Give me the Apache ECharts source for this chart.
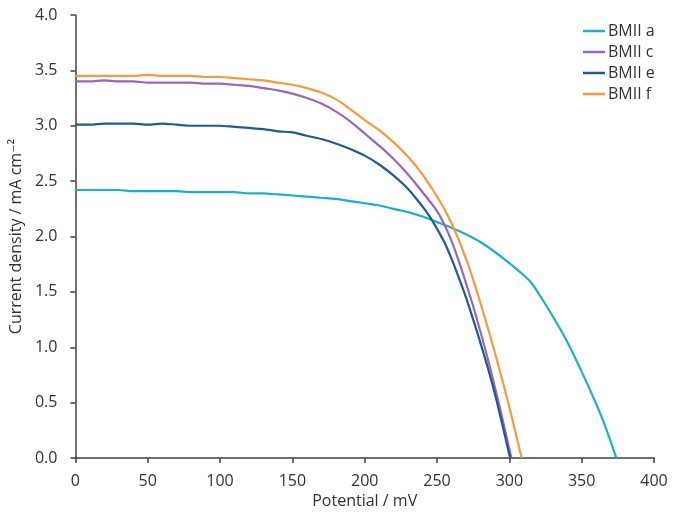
<!DOCTYPE html>
<html>
<head>
<meta charset="utf-8">
<script src="https://cdn.jsdelivr.net/npm/echarts@6/dist/echarts.min.js"></script>
<style>
html,body{margin:0;padding:0;background:#fff;}
#chart{width:675px;height:517px;}
</style>
</head>
<body>
<div id="chart"></div>
<script>
var seriesNames = ['BMII a', 'BMII c', 'BMII e', 'BMII f'];
var xTicks = [0, 50, 100, 150, 200, 250, 300, 350, 400];
var yTicks = [0, 0.5, 1.0, 1.5, 2.0, 2.5, 3.0, 3.5, 4.0];

var bmiiA = [[0,2.42],[10,2.42],[20,2.42],[30,2.42],[40,2.41],[50,2.41],[60,2.41],[70,2.41],[80,2.40],[90,2.40],[100,2.40],[110,2.40],[120,2.39],[130,2.39],[140,2.38],[150,2.37],[160,2.36],[170,2.35],[180,2.34],[190,2.32],[200,2.30],[210,2.28],[220,2.25],[230,2.22],[240,2.18],[250,2.13],[260,2.08],[270,2.02],[280,1.95],[290,1.86],[300,1.76],[310,1.65],[315,1.585],[320,1.49],[330,1.28],[340,1.05],[350,0.78],[360,0.49],[365,0.33],[370,0.15],[374,0]];
var bmiiC = [[0,3.40],[10,3.40],[20,3.41],[30,3.40],[40,3.40],[50,3.39],[60,3.39],[70,3.39],[80,3.39],[90,3.38],[100,3.38],[110,3.37],[120,3.36],[130,3.34],[140,3.32],[150,3.29],[160,3.25],[170,3.20],[180,3.13],[190,3.04],[200,2.93],[210,2.82],[220,2.70],[230,2.56],[240,2.40],[250,2.23],[255,2.11],[260,1.96],[265,1.78],[270,1.58],[275,1.37],[280,1.14],[285,0.90],[290,0.64],[295,0.365],[300,0.08],[301.4,0]];
var bmiiE = [[0,3.01],[10,3.01],[20,3.02],[30,3.02],[40,3.02],[50,3.01],[60,3.02],[70,3.01],[80,3.00],[90,3.00],[100,3.00],[110,2.99],[120,2.98],[130,2.97],[140,2.95],[150,2.94],[160,2.91],[170,2.88],[180,2.84],[190,2.79],[200,2.73],[210,2.65],[220,2.55],[230,2.43],[240,2.27],[245,2.18],[250,2.07],[255,1.95],[260,1.80],[265,1.63],[270,1.45],[275,1.25],[280,1.04],[285,0.82],[290,0.58],[295,0.31],[300,0.03],[300.6,0]];
var bmiiF = [[0,3.45],[10,3.45],[20,3.45],[30,3.45],[40,3.45],[50,3.46],[60,3.45],[70,3.45],[80,3.45],[90,3.44],[100,3.44],[110,3.43],[120,3.42],[130,3.41],[140,3.39],[150,3.37],[160,3.34],[170,3.30],[180,3.24],[190,3.15],[200,3.05],[210,2.96],[220,2.85],[230,2.72],[240,2.56],[250,2.36],[255,2.25],[260,2.12],[265,1.97],[270,1.80],[275,1.61],[280,1.40],[285,1.18],[290,0.95],[295,0.71],[300,0.46],[305,0.19],[308.5,0]];

var colors = ['#1cb0c9', '#9966bd', '#1f5a91', '#f8993f'];
var seriesData = [bmiiA, bmiiC, bmiiE, bmiiF];

var chart = echarts.init(document.getElementById('chart'), null, {renderer: 'canvas'});
var axisColor = '#404040';
var font = '"Open Sans", "DejaVu Sans", sans-serif';

chart.setOption({
  backgroundColor: '#ffffff',
  animation: false,
  color: colors,
  textStyle: {fontFamily: font},
  grid: {left: 72, right: 21, top: 15, bottom: 59, containLabel: false},
  legend: {
    data: seriesNames,
    orient: 'vertical',
    left: 578,
    top: 18,
    icon: 'rect',
    itemWidth: 22,
    itemHeight: 2.5,
    itemGap: 5,
    textStyle: {fontSize: 16, color: '#333', fontFamily: font, padding: [0, 0, 0, -2]}
  },
  xAxis: {
    type: 'value',
    min: xTicks[0],
    max: xTicks[xTicks.length - 1],
    interval: 50,
    name: 'Potential / mV',
    nameLocation: 'middle',
    nameGap: 34,
    nameTextStyle: {fontSize: 16, color: '#333', fontFamily: font},
    axisLine: {show: true, lineStyle: {color: axisColor, width: 1.5}},
    axisTick: {show: true, inside: false, length: 5, lineStyle: {color: axisColor, width: 1.5}},
    axisLabel: {fontSize: 16, color: '#333', margin: 15, fontFamily: font},
    splitLine: {show: false}
  },
  yAxis: {
    type: 'value',
    min: yTicks[0],
    max: yTicks[yTicks.length - 1],
    interval: 0.5,
    name: 'Current density / mA cm\u207B\u00B2',
    nameLocation: 'middle',
    nameGap: 46,
    nameTextStyle: {fontSize: 16, color: '#333', fontFamily: font},
    axisLine: {show: true, lineStyle: {color: axisColor, width: 1.5}},
    axisTick: {show: true, inside: false, length: 5, lineStyle: {color: axisColor, width: 1.5}},
    axisLabel: {fontSize: 16, color: '#333', margin: 18, fontFamily: font,
      formatter: function (v) { return v.toFixed(1); }},
    splitLine: {show: false}
  },
  series: seriesNames.map(function (n, i) {
    return {
      name: n,
      type: 'line',
      data: seriesData[i],
      symbol: 'none',
      smooth: 0.3,
      lineStyle: {width: 2.2, color: colors[i]},
      itemStyle: {color: colors[i]}
    };
  })
});
</script>
</body>
</html>
